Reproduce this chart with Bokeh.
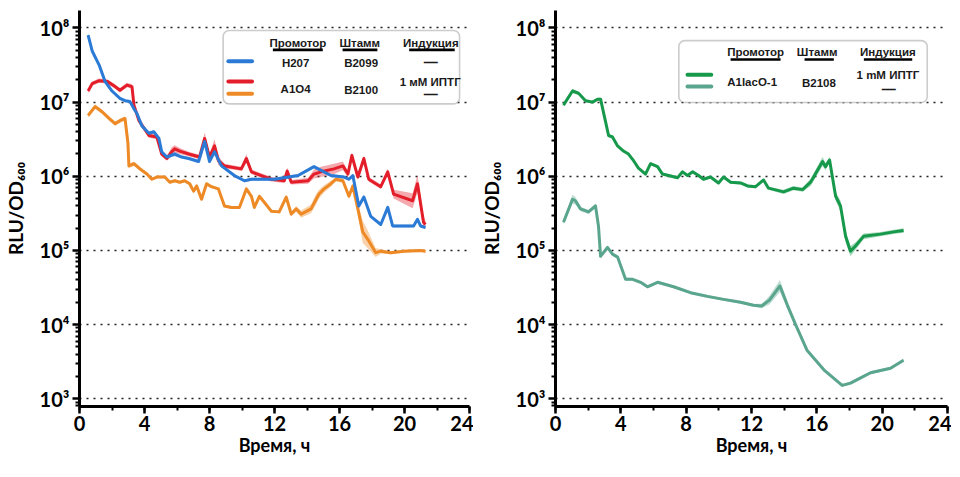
import numpy as np
from bokeh.plotting import figure
from bokeh.layouts import row
from bokeh.models import FixedTicker, SingleIntervalTicker, BoxAnnotation, Label, Range1d
from bokeh.embed import file_html
from bokeh.resources import INLINE

# ---------------- data (time in h, log10 of RLU/OD600, log half-width of band) -------------
h207_t = [0.53, 0.78, 1.21, 1.57, 2.00, 2.49, 2.80, 3.10, 3.35, 3.53, 3.84, 4.27, 4.58, 4.89, 5.06,
          5.37, 5.86, 6.29, 6.72, 7.33, 7.70, 8.00, 8.31, 8.74, 9.53, 10.15, 10.58, 11.37, 11.98,
          12.60, 13.45, 14.43, 15.47, 16.27, 16.58, 16.82, 17.19, 17.50, 17.92, 18.54, 18.97, 19.27,
          20.56, 20.80, 20.99, 21.29]
h207_log = [7.905, 7.69, 7.50, 7.28, 7.15, 7.05, 7.02, 7.01, 6.91, 6.85, 6.68, 6.58, 6.60, 6.51, 6.33,
            6.26, 6.30, 6.26, 6.24, 6.20, 6.47, 6.20, 6.33, 6.14, 6.01, 5.94, 5.96, 5.96, 5.96,
            5.98, 6.01, 6.13, 6.01, 5.99, 5.96, 6.01, 5.60, 5.72, 5.46, 5.35, 5.58, 5.33,
            5.33, 5.42, 5.33, 5.31]
h207_err = [0.03, 0.03, 0.02, 0.02, 0.02, 0.02, 0.02, 0.02, 0.02, 0.02, 0.02, 0.02, 0.02, 0.02, 0.02,
            0.02, 0.03, 0.02, 0.02, 0.02, 0.03, 0.02, 0.03, 0.02, 0.02, 0.02, 0.02, 0.02, 0.02,
            0.02, 0.02, 0.02, 0.02, 0.02, 0.02, 0.02, 0.03, 0.03, 0.02, 0.02, 0.02, 0.02,
            0.02, 0.02, 0.02, 0.02]

a1o4_iptg_t = [0.53, 0.78, 1.21, 1.70, 2.19, 2.49, 2.92, 3.23, 3.35, 3.66, 4.27, 4.76, 5.06, 5.37,
               5.67, 5.86, 6.17, 6.72, 7.39, 7.70, 8.00, 8.31, 8.55, 8.92, 9.96, 10.27, 10.58, 11.19,
               11.80, 12.60, 12.78, 13.03, 14.07, 14.43, 14.86, 15.66, 16.21, 16.52, 16.76, 17.13,
               17.50, 17.80, 18.54, 18.97, 19.33, 20.50, 20.80, 21.17, 21.29]
a1o4_iptg_log = [7.15, 7.25, 7.29, 7.28, 7.21, 7.16, 7.23, 7.21, 6.96, 6.75, 6.55, 6.53, 6.30, 6.24,
                 6.33, 6.37, 6.34, 6.30, 6.26, 6.51, 6.26, 6.41, 6.21, 6.14, 6.10, 6.24, 6.06, 6.01,
                 5.96, 5.94, 6.07, 5.92, 5.94, 6.03, 6.06, 6.10, 6.14, 6.03, 6.28, 5.99,
                 6.24, 5.96, 5.86, 6.06, 5.76, 5.67, 5.90, 5.38, 5.35]
a1o4_iptg_err = [0.03, 0.03, 0.03, 0.03, 0.03, 0.03, 0.03, 0.03, 0.03, 0.03, 0.03, 0.03, 0.03, 0.03,
                 0.06, 0.05, 0.04, 0.03, 0.03, 0.08, 0.04, 0.09, 0.06, 0.03, 0.03, 0.06, 0.03, 0.03,
                 0.03, 0.03, 0.05, 0.03, 0.04, 0.06, 0.07, 0.07, 0.06, 0.04, 0.04, 0.03,
                 0.04, 0.03, 0.03, 0.04, 0.06, 0.10, 0.12, 0.08, 0.05]

a1o4_t = [0.53, 0.96, 1.39, 1.82, 2.19, 2.49, 2.80, 2.98, 3.04, 3.35, 3.72, 4.15, 4.45, 4.76, 5.25,
          5.56, 5.86, 6.17, 6.47, 6.78, 7.02, 7.21, 7.51, 7.82, 8.12, 8.55, 8.92, 9.35, 9.84, 10.27,
          10.58, 10.76, 11.07, 11.37, 11.80, 12.29, 12.72, 13.03, 13.33, 13.64, 14.25, 14.56, 14.74,
          15.05, 15.47, 15.78, 16.21, 16.58, 16.82, 17.13, 17.43, 17.74, 18.23, 18.54, 19.15, 19.95,
          20.99, 21.29]
a1o4_log = [6.82, 6.94, 6.87, 6.78, 6.71, 6.75, 6.78, 6.45, 6.14, 6.17, 6.10, 6.03, 5.96, 5.99, 5.99,
            5.92, 5.94, 5.92, 5.94, 5.90, 5.80, 5.87, 5.69, 5.90, 5.86, 5.83, 5.60, 5.58, 5.58, 5.83,
            5.73, 5.58, 5.73, 5.65, 5.53, 5.52, 5.72, 5.49, 5.56, 5.49, 5.56, 5.69, 5.76,
            5.83, 5.90, 5.96, 5.94, 5.73, 5.87, 5.56, 5.25, 5.15, 4.97, 4.99, 4.97, 4.99,
            5.00, 4.99]
a1o4_err = [0.03, 0.03, 0.03, 0.03, 0.03, 0.03, 0.03, 0.03, 0.03, 0.03, 0.03, 0.02, 0.02, 0.02, 0.02,
            0.02, 0.02, 0.02, 0.02, 0.02, 0.02, 0.02, 0.02, 0.02, 0.02, 0.02, 0.02, 0.02, 0.02, 0.02,
            0.02, 0.02, 0.02, 0.02, 0.02, 0.02, 0.02, 0.03, 0.04, 0.05, 0.06, 0.07, 0.06,
            0.05, 0.04, 0.03, 0.03, 0.03, 0.03, 0.08, 0.15, 0.12, 0.06, 0.03, 0.02, 0.02,
            0.02, 0.02]

a1laco_iptg_t = [0.49, 1.04, 1.41, 1.84, 2.27, 2.57, 2.76, 3.06, 3.25, 3.49, 3.80, 4.16, 4.47, 4.78,
                 5.08, 5.51, 5.82, 6.25, 6.55, 6.92, 7.47, 7.78, 8.08, 8.39, 8.76, 9.06, 9.49, 9.98,
                 10.29, 10.72, 11.33, 11.76, 12.25, 12.74, 13.04, 13.96, 14.57, 15.13, 15.62, 16.35,
                 16.53, 16.78, 17.15, 17.45, 17.76, 18.06, 18.37, 18.86, 19.90, 20.70, 21.31]
a1laco_iptg_log = [6.96, 7.15, 7.12, 7.02, 7.00, 7.04, 7.04, 6.74, 6.55, 6.53, 6.41, 6.34, 6.30, 6.21,
                   6.11, 6.03, 6.17, 6.13, 6.03, 6.01, 5.98, 6.06, 6.01, 6.06, 6.01, 5.96, 5.99, 5.91,
                   5.99, 5.92, 5.91, 5.87, 5.86, 5.95, 5.84, 5.79, 5.84, 5.82, 5.92, 6.20,
                   6.13, 6.22, 5.73, 5.60, 5.19, 4.99, 5.06, 5.19, 5.22, 5.25, 5.27]
a1laco_iptg_err = [0.02, 0.03, 0.02, 0.02, 0.02, 0.02, 0.02, 0.02, 0.02, 0.02, 0.02, 0.02, 0.02, 0.02,
                   0.02, 0.02, 0.02, 0.02, 0.02, 0.02, 0.02, 0.02, 0.02, 0.02, 0.02, 0.02, 0.02, 0.02,
                   0.02, 0.02, 0.02, 0.02, 0.02, 0.02, 0.02, 0.03, 0.03, 0.03, 0.05, 0.06,
                   0.05, 0.04, 0.06, 0.07, 0.08, 0.07, 0.05, 0.04, 0.03, 0.03, 0.03]

a1laco_t = [0.49, 1.04, 1.22, 1.53, 2.02, 2.45, 2.63, 2.76, 3.18, 3.49, 3.80, 4.29, 4.72, 5.21, 5.63,
            6.25, 7.23, 8.27, 9.31, 10.29, 11.33, 12.12, 12.62, 13.10, 13.74, 14.20, 14.70, 15.41,
            16.43, 17.55, 18.06, 18.68, 19.29, 20.51, 21.31]
a1laco_log = [5.38, 5.69, 5.67, 5.56, 5.52, 5.60, 5.33, 4.92, 5.04, 4.95, 4.91, 4.61, 4.61, 4.57, 4.51,
              4.57, 4.51, 4.43, 4.38, 4.34, 4.30, 4.26, 4.25, 4.33, 4.52, 4.26, 4.00, 3.65,
              3.39, 3.18, 3.21, 3.28, 3.35, 3.41, 3.52]
a1laco_err = [0.03, 0.06, 0.05, 0.03, 0.03, 0.03, 0.02, 0.02, 0.03, 0.02, 0.02, 0.02, 0.02, 0.02, 0.02,
              0.02, 0.02, 0.02, 0.02, 0.02, 0.02, 0.02, 0.03, 0.06, 0.08, 0.05, 0.03, 0.02,
              0.02, 0.02, 0.02, 0.02, 0.02, 0.02, 0.02]

y_tick_values = [1e3, 1e4, 1e5, 1e6, 1e7, 1e8]
y_tick_labels = ["10³", "10⁴", "10⁵", "10⁶", "10⁷", "10⁸"]
x_label = "Время, ч"
y_label = "RLU/OD₆₀₀"
legend_headers = ["Промотор", "Штамм", "Индукция"]

BLUE = "#2b7bd6"
RED = "#e31e2a"
ORANGE = "#ee8a25"
GREEN = "#17994b"
TEAL = "#5aa58d"

FONT = "Lato"
LFONT = "Liberation Sans"


def make_fig(border_left, width):
    p = figure(width=width, height=466, x_range=Range1d(0, 24),
               y_range=Range1d(10 ** 2.895, 10 ** 8.236), y_axis_type="log",
               output_backend="svg", toolbar_location=None,
               min_border_left=border_left, min_border_right=4,
               min_border_top=10, min_border_bottom=60)
    p.outline_line_color = None
    p.background_fill_color = "white"
    p.xgrid.visible = False
    p.ygrid.grid_line_color = "#222222"
    p.ygrid.grid_line_dash = "2 5"
    p.ygrid.grid_line_width = 1.6

    minor = [k * 10 ** d for d in range(2, 9) for k in range(2, 10)]
    p.yaxis.ticker = FixedTicker(ticks=y_tick_values, minor_ticks=minor)
    p.yaxis.major_label_overrides = {v: s for v, s in zip(y_tick_values, y_tick_labels)}
    p.xaxis.ticker = SingleIntervalTicker(interval=4, num_minor_ticks=2)

    for ax in (p.xaxis[0], p.yaxis[0]):
        ax.axis_line_width = 3
        ax.axis_line_color = "black"
        ax.major_tick_line_width = 2.5
        ax.major_tick_line_color = "black"
        ax.major_tick_out = 7
        ax.major_tick_in = 0
        ax.minor_tick_line_width = 2
        ax.minor_tick_line_color = "black"
        ax.minor_tick_out = 4
        ax.minor_tick_in = 0
        ax.major_label_text_font = FONT
        ax.major_label_text_font_style = "bold"
        ax.major_label_text_font_size = "20px"
        ax.major_label_text_color = "black"
        ax.axis_label_text_font = FONT
        ax.axis_label_text_font_style = "bold"
        ax.axis_label_text_font_size = "18px"
        ax.axis_label_text_color = "black"
    p.xaxis.major_label_standoff = 2
    p.xaxis.axis_label_standoff = 0
    p.yaxis.major_label_standoff = 3
    p.yaxis.axis_label_standoff = 10
    p.xaxis.axis_label = x_label
    p.yaxis.axis_label = y_label
    p.yaxis.axis_label_text_font_size = "19px"
    return p


def series(p, t, lg, err, color):
    t = np.array(t)
    lg = np.array(lg)
    err = np.array(err)
    p.varea(x=t, y1=10 ** (lg - err), y2=10 ** (lg + err), fill_color=color, fill_alpha=0.38)
    p.line(x=t, y=10 ** lg, line_color=color, line_width=3, line_join="round")


def label(p, x, ly, text, size="11.5px"):
    p.add_layout(Label(x=x, y=10 ** ly, text=text, text_font=LFONT, text_font_style="bold",
                       text_font_size=size, text_color="#1a1a1a", text_align="center",
                       text_baseline="middle"))


def bar(p, x0, x1, ly, half, color, radius=2):
    p.add_layout(BoxAnnotation(left=x0, right=x1, bottom=10 ** (ly - half), top=10 ** (ly + half),
                               fill_color=color, fill_alpha=1, line_color=None,
                               border_radius=radius))


def legend_box(p, x0, x1, y0, y1):
    p.add_layout(BoxAnnotation(left=x0, right=x1, bottom=10 ** y0, top=10 ** y1,
                               fill_color="white", fill_alpha=1, line_color="#555555",
                               line_width=1.6, border_radius=6))


# ---------------- left panel ----------------
p1 = make_fig(77, 473)
series(p1, a1o4_t, a1o4_log, a1o4_err, ORANGE)
series(p1, a1o4_iptg_t, a1o4_iptg_log, a1o4_iptg_err, RED)
series(p1, h207_t, h207_log, h207_err, BLUE)

legend_box(p1, 8.84, 23.39, 6.976, 7.966)
for cx, x0, x1, txt in [(13.44, 11.90, 14.97, legend_headers[0]),
                        (17.25, 16.19, 18.33, legend_headers[1]),
                        (21.62, 20.29, 23.09, legend_headers[2])]:
    label(p1, cx, 7.80, txt)
    bar(p1, x0, x1, 7.706, 0.018, "black", radius=0)
bar(p1, 9.04, 10.74, 7.552, 0.027, BLUE)
bar(p1, 9.04, 10.74, 7.278, 0.027, RED)
bar(p1, 9.04, 10.74, 7.112, 0.027, ORANGE)
label(p1, 13.30, 7.525, "H207")
label(p1, 17.33, 7.525, "B2099")
label(p1, 21.62, 7.535, "—", "14px")
label(p1, 13.30, 7.179, "A1O4")
label(p1, 17.33, 7.170, "B2100")
label(p1, 21.58, 7.265, "1 мМ ИПТГ")
label(p1, 21.62, 7.105, "—", "14px")

# ---------------- right panel ----------------
p2 = make_fig(82, 478)
series(p2, a1laco_t, a1laco_log, a1laco_err, TEAL)
series(p2, a1laco_iptg_t, a1laco_iptg_log, a1laco_iptg_err, GREEN)

legend_box(p2, 7.55, 22.76, 6.995, 7.83)
for cx, x0, x1, txt in [(12.25, 10.72, 13.78, legend_headers[0]),
                        (16.02, 15.25, 17.04, legend_headers[1]),
                        (20.35, 18.88, 21.84, legend_headers[2])]:
    label(p2, cx, 7.68, txt)
    bar(p2, x0, x1, 7.575, 0.018, "black", radius=0)
bar(p2, 7.96, 9.66, 7.368, 0.027, GREEN)
bar(p2, 7.96, 9.66, 7.210, 0.027, TEAL)
label(p2, 12.04, 7.268, "A1lacO-1")
label(p2, 16.13, 7.26, "B2108")
label(p2, 20.35, 7.368, "1 mM ИПТГ")
label(p2, 20.41, 7.175, "—", "14px")

layout = row(p1, p2)
open("out.html", "w").write(file_html(layout, INLINE))
